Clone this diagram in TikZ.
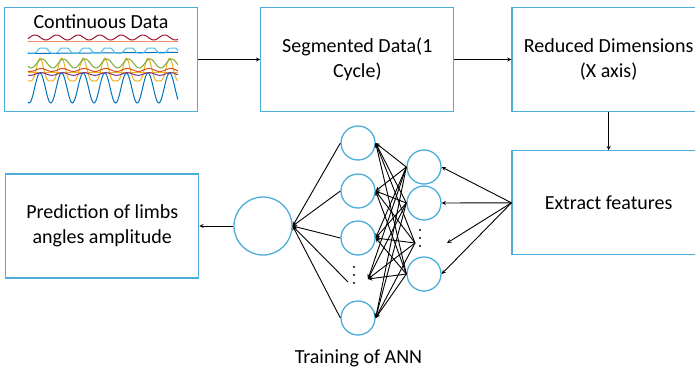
\documentclass[tikz,border=0pt]{standalone}
\usepackage{fontspec}
\setmainfont{Carlito}
\usepackage{tikz}
\usetikzlibrary{shapes,arrows,positioning}
\definecolor{boxblue}{RGB}{76,172,218}
\definecolor{wblue}{rgb}{0,0.447,0.741}
\definecolor{wred}{rgb}{0.85,0.325,0.098}
\definecolor{wyellow}{rgb}{0.929,0.694,0.125}
\definecolor{wpurple}{rgb}{0.494,0.184,0.556}
\definecolor{wgreen}{rgb}{0.466,0.674,0.188}
\definecolor{wcyan}{rgb}{0.301,0.745,0.933}
\definecolor{wdarkred}{rgb}{0.635,0.078,0.184}
\tikzset{
    blockbox/.style = {draw=boxblue, line width=1.3pt, minimum width=193pt, minimum height=104pt, align=center, font=\fontsize{20}{24.5}\selectfont},
    neuron/.style   = {draw=boxblue, line width=1.3pt, circle, minimum size=34pt, inner sep=0pt},
    flowedge/.style = {black, ->, >=stealth, line width=0.9pt},
    netedge/.style  = {black, ->, >=stealth, line width=0.9pt},
    wave/.style     = {line width=1pt, smooth, samples=150, domain=28:178},
}

\begin{document}
\begin{tikzpicture}[x=1pt,y=-1pt]
        \useasboundingbox (0,0) rectangle (695,372);
        \node[blockbox](cont) at (101,59.5){};
        \node[blockbox, right=62pt of cont](seg){Segmented Data(1\\Cycle)};
        \node[blockbox, right=57pt of seg](red){Reduced Dimensions\\(X axis)};
        \node[blockbox, below=38pt of red](ext){Extract features};
        \node[font=\fontsize{20}{24.5}\selectfont](ctitle) at (101,22){Continuous Data};

        % signals in the first box
        \draw[wave, wblue] plot (\x,{88-15*cos((\x-40)/21.6*360)});
        \draw[wave, wyellow] plot (\x,{81-23*(0.5+0.5*cos((\x-40)/21.6*360))^2});
        \draw[wave, wyellow] plot (\x,{72.5});
        \draw[wave, wpurple] plot (\x,{74-1.3*cos((\x-41)/21.6*360)});
        \draw[wave, wred] plot (\x,{70-1.5*cos((\x-41)/21.6*360)});
        \draw[wave, wgreen] plot (\x,{63.5-4.5*cos((\x-42)/21.6*360)});
        \draw[wave, wblue] plot (\x,{53.5-0.008*(\x-28)});
        \draw[wave, wcyan] plot (\x,{50.5-2.5*max(min(1.7*cos((\x-43)/21.6*360),1),-1)});
        \draw[wave, wred] plot (\x,{41});
        \draw[wave, wdarkred] plot (\x,{37.5-2.5*cos((\x-35)/21.6*360)});

        % network
        \node[neuron, minimum size=58pt](out) at (263,226){};
        \node[blockbox, left=34pt of out](pred){Prediction of limbs\\angles amplitude};
        \node[neuron](h1) at (358,143){};
        \node[neuron](h2) at (358,191){};
        \node[neuron](h3) at (358,238){};
        \node[neuron](h5) at (358,318){};
        \node[neuron](g1) at (424,167){};
        \node[neuron](g2) at (424,203){};
        \node[neuron](g4) at (424,274){};
        \foreach \k in {0,1,2} {
            \fill (354,267+8*\k) circle (1.1pt);
            \fill (420,230+8*\k) circle (1.1pt);
        }
        \coordinate (h4w) at (348,282);
        \coordinate (h4e) at (368,279);
        \coordinate (g3w) at (415,243);
        \coordinate (g3e) at (447,243);
        \node[font=\fontsize{20}{24.5}\selectfont](ann) at (358.5,358){Training of ANN};

        \path (cont) edge[flowedge] (seg);
        \path (seg) edge[flowedge] (red);
        \path (red) edge[flowedge] (ext);
        \path (out) edge[flowedge] (pred);
        \foreach \p in {h1.west,h2.west,h3.west,h4w,h5.west}
            \draw[netedge] (\p) -- (out.east);
        \foreach \p in {h1.east,h2.east,h3.east,h4e,h5.east}
            \foreach \q in {g1.west,g2.west,g3w,g4.west}
                \draw[netedge] (\q) -- (\p);
        \foreach \q in {g1.east,g2.east,g3e,g4.east}
            \draw[netedge] (ext.west) -- (\q);
    \end{tikzpicture}
\end{document}
